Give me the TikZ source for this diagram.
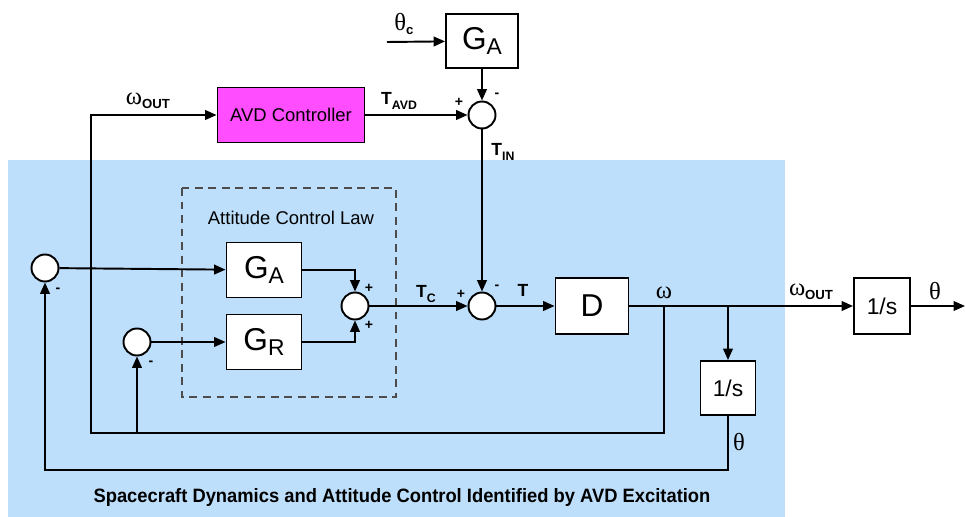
\documentclass[tikz,border=0pt]{standalone}
\usepackage{fontspec}
\setmainfont{Liberation Sans}
\newfontfamily\grk{Liberation Serif}
\newfontfamily\narrowsans[FakeStretch=0.95]{Liberation Sans}
\usetikzlibrary{arrows.meta}

\definecolor{bgblue}{RGB}{190,223,251}
\definecolor{avdpink}{RGB}{255,77,255}

% signal with subscript
\newcommand{\gsub}[2]{{\grk\fontsize{14}{14}\selectfont #1}\raisebox{-0.45ex}{\bfseries\fontsize{7.5}{8}\selectfont #2}}
\newcommand{\tsub}[2]{{\bfseries\fontsize{10}{10}\selectfont #1}\raisebox{-0.5ex}{\bfseries\fontsize{7}{8}\selectfont #2}}
\newcommand{\blk}[2]{{\fontsize{18}{18}\selectfont #1}\raisebox{-0.45ex}{\fontsize{13}{13}\selectfont #2}}

\tikzset{
  block/.style={draw, fill=white, line width=1.1pt, inner sep=0pt},
  sumnode/.style={circle, draw, fill=white, line width=1.1pt, minimum size=0.54cm, inner sep=0pt},
  sig/.style={line width=1.1pt, -{Triangle[length=6.5pt,width=5.5pt]}},
  sgn/.style={font=\bfseries\fontsize{8}{8}\selectfont, inner sep=0pt},
  gk/.style={font=\grk\fontsize{14}{14}\selectfont, inner sep=0pt}
}

\begin{document}
\begin{tikzpicture}[x=0.02cm, y=-0.02cm]
    \useasboundingbox (0,0) rectangle (965,517);

    % Identified region
    \fill[bgblue] (8,160) rectangle (785,517);

    % Attitude control law box
    \draw[dashed, gray!60!black, line width=0.8pt, dash pattern=on 4.5pt off 3.2pt] (182,188) rectangle (396,397);
    \node[font=\fontsize{10.5}{10.5}\selectfont] (acl) at (291,218) {Attitude Control Law};

    % Blocks
    \node[block, minimum width=1.44cm, minimum height=1.08cm] (gat) at (482,41) {\blk{G}{A}};
    \node[block, fill=avdpink, minimum width=2.94cm, minimum height=1.1cm, font=\fontsize{10.5}{10.5}\selectfont] (avd) at (291,115) {AVD Controller};
    \node[block, minimum width=1.5cm, minimum height=1.1cm] (ga) at (264,270) {\blk{G}{A}};
    \node[block, minimum width=1.5cm, minimum height=1.1cm] (gr) at (264,342) {\blk{G}{R}};
    \node[block, minimum width=1.46cm, minimum height=1.12cm, font=\fontsize{18}{18}\selectfont] (d) at (592,306) {D};
    \node[block, minimum width=1.1cm, minimum height=1.08cm, font=\fontsize{13}{13}\selectfont] (int1) at (728,388) {1/s};
    \node[block, minimum width=1.12cm, minimum height=1.12cm, font=\fontsize{13}{13}\selectfont] (int2) at (882,306) {1/s};

    % Summing junctions
    \node[sumnode] (s1) at (482,115) {};
    \node[sumnode] (s2) at (482,306) {};
    \node[sumnode] (s3) at (355,306) {};
    \node[sumnode] (sa) at (45,268) {};
    \node[sumnode] (sr) at (137,342) {};

    % Branch and end points
    \coordinate (thc) at (387,42);
    \coordinate (wb) at (664,306);
    \coordinate (tb) at (728,306);
    \coordinate (out) at (965,306);
    \coordinate (il) at (91,433);
    \coordinate (rb) at (137,433);
    \coordinate (ob) at (728,470);

    % Top loop
    \draw[sig] (thc) -- (gat);
    \draw[sig] (gat) -- (s1);
    \draw[sig] (avd) -- (s1);
    \draw[sig] (s1) -- (s2);

    % Forward path
    \draw[sig] (sa) -- (ga);
    \draw[sig] (sr) -- (gr);
    \draw[sig] (ga) -| (s3);
    \draw[sig] (gr) -| (s3);
    \draw[sig] (s3) -- (s2);
    \draw[sig] (s2) -- (d);
    \draw[sig] (d) -- (int2);
    \draw[sig] (int2) -- (out);
    \draw[sig] (tb) -- (int1);

    % Feedback
    \draw[sig] (wb) |- (il) |- (avd);
    \draw[sig] (rb) -- (sr);
    \draw[sig] (int1) -- (ob) -| (sa);

    % Labels
    \node[inner sep=0pt] (lthc) at (404,24) {\gsub{θ}{c}};
    \node[inner sep=0pt] (lwo1) at (148,101) {\gsub{ω}{OUT}};
    \node[inner sep=0pt] (ltavd) at (399,101) {\tsub{T}{AVD}};
    \node[inner sep=0pt] (ltin) at (503,152) {\tsub{T}{IN}};
    \node[inner sep=0pt] (ltc) at (426,294) {\tsub{T}{C}};
    \node[inner sep=0pt, font=\bfseries\fontsize{10}{10}\selectfont] (lt) at (523,290) {T};
    \node[gk] (lw) at (664,293) {ω};
    \node[inner sep=0pt] (lwo2) at (811,292) {\gsub{ω}{OUT}};
    \node[gk] (lth1) at (935,291) {θ};
    \node[gk] (lth2) at (739,442) {θ};

    % Signs
    \node[sgn] at (459,102) {+};
    \node[sgn] at (497,95) {-};
    \node[sgn] at (58,290) {-};
    \node[sgn] at (151,363) {-};
    \node[sgn] at (369,288) {+};
    \node[sgn] at (369,325) {+};
    \node[sgn] at (461,294) {+};
    \node[sgn] at (497,287) {-};

    % Caption
    \node[font=\narrowsans\bfseries\fontsize{11}{11}\selectfont] (cap) at (402,498) {Spacecraft Dynamics and Attitude Control Identified by AVD Excitation};
\end{tikzpicture}
\end{document}
